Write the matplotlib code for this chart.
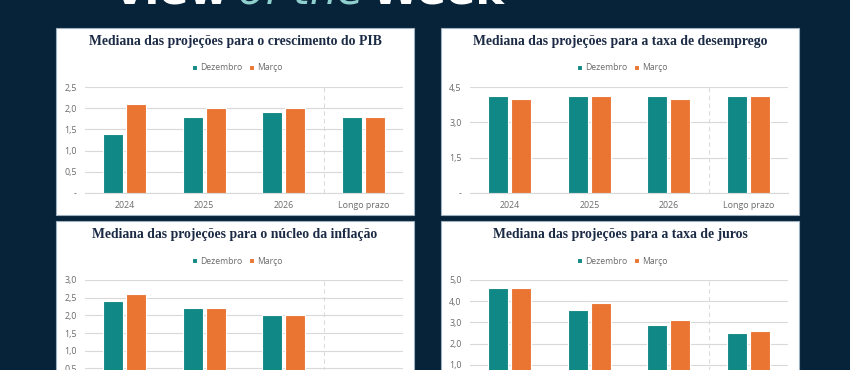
import matplotlib

matplotlib.use("Agg")
import matplotlib.patches as patches
import matplotlib.pyplot as plt
import numpy as np
from matplotlib.ticker import FuncFormatter, MultipleLocator

W, H = 850, 370

categories = ["2024", "2025", "2026", "Longo prazo"]
series_names = ["Dezembro", "Março"]

pib_dez = [1.4, 1.8, 1.9, 1.8]
pib_mar = [2.1, 2.0, 2.0, 1.8]
desemprego_dez = [4.1, 4.1, 4.1, 4.1]
desemprego_mar = [4.0, 4.1, 4.0, 4.1]
nucleo_dez = [2.4, 2.2, 2.0, np.nan]
nucleo_mar = [2.6, 2.2, 2.0, np.nan]
juros_dez = [4.6, 3.6, 2.9, 2.5]
juros_mar = [4.6, 3.9, 3.1, 2.6]

titles = [
    "Mediana das projeções para o crescimento do PIB",
    "Mediana das projeções para a taxa de desemprego",
    "Mediana das projeções para o núcleo da inflação",
    "Mediana das projeções para a taxa de juros",
]

NAVY = "#06233a"
TEAL = "#108886"
ORANGE = "#ea7533"
TITLE_COLOR = "#1c2b45"
TICK_COLOR = "#6b6b6b"
GRID_COLOR = "#d9d9d9"


def fig_box(x, y, w, h):
    # pixel box (top-left origin) -> figure fraction [left, bottom, width, height]
    return [x / W, 1 - (y + h) / H, w / W, h / H]


def tick_fmt(value, _pos):
    if abs(value) < 1e-9:
        return "-"
    return f"{value:.1f}".replace(".", ",")


def draw_panel(fig, x0, y0, title, dez, mar, ymax, step, show_xlabels=True):
    bx = fig_box(x0, y0, 358, 187)
    fig.add_artist(
        patches.Rectangle(
            (bx[0], bx[1]), bx[2], bx[3],
            transform=fig.transFigure, facecolor="white",
            edgecolor="#9fb0bf", linewidth=0.8, zorder=0,
        )
    )
    fig.text(
        (x0 + 179) / W, 1 - (y0 + 14) / H, title,
        ha="center", va="center", fontsize=9.9, fontweight="bold",
        family="Liberation Serif", color=TITLE_COLOR,
    )

    ax = fig.add_axes(fig_box(x0 + 29, y0 + 59, 318, 106))
    ax.set_facecolor("none")
    x = np.arange(len(categories))
    offset, width = 0.145, 0.25
    ax.bar(x - offset, dez, width, color=TEAL, edgecolor="white", linewidth=0.8,
           label=series_names[0], zorder=3)
    ax.bar(x + offset, mar, width, color=ORANGE, edgecolor="white", linewidth=0.8,
           label=series_names[1], zorder=3)
    ax.set_xlim(-0.5, len(categories) - 0.5)
    ax.set_ylim(0, ymax)
    ax.yaxis.set_major_locator(MultipleLocator(step))
    ax.yaxis.set_major_formatter(FuncFormatter(tick_fmt))
    ax.grid(axis="y", color=GRID_COLOR, linewidth=0.8, zorder=0)
    ax.axvline(2.5, color="#dcdcdc", linestyle=(0, (4, 3)), linewidth=0.8, zorder=1)
    for side in ["top", "right", "left"]:
        ax.spines[side].set_visible(False)
    ax.spines["bottom"].set_color(GRID_COLOR)
    ax.spines["bottom"].set_linewidth(0.8)
    ax.set_xticks(x)
    # lower panels run past the bottom edge, so their category labels are not shown
    ax.set_xticklabels(categories if show_xlabels else [])
    ax.tick_params(axis="both", length=0, labelsize=6.4, colors=TICK_COLOR, pad=6)
    for lbl in ax.get_xticklabels() + ax.get_yticklabels():
        lbl.set_family("Open Sans")
    if not show_xlabels:
        for lbl, val in zip(ax.get_yticklabels(), ax.get_yticks()):
            if val < step * 0.99:
                lbl.set_visible(False)

    ax.legend(
        loc="center", bbox_to_anchor=((x0 + 181) / W, 1 - (y0 + 40) / H),
        bbox_transform=fig.transFigure, ncol=2, frameon=False,
        labelcolor=TICK_COLOR, handlelength=0.65, handleheight=0.65,
        handletextpad=0.3, columnspacing=0.8,
        prop={"family": "Open Sans", "size": 6.2},
    )
    return ax


fig = plt.figure(figsize=(W / 100, H / 100), dpi=100, facecolor=NAVY)

# banner heading, mostly cropped off the top edge
base_y = 1 - 4 / H
fig.text(113 / W, base_y, "View", ha="left", va="baseline", fontsize=31,
         fontweight="bold", color="white", family="DejaVu Sans")
fig.text(238 / W, base_y, "of the", ha="left", va="baseline", fontsize=31,
         fontstyle="italic", color="#8fd0cf", family="DejaVu Sans")
fig.text(372 / W, base_y, "Week", ha="left", va="baseline", fontsize=31,
         fontweight="bold", color="white", family="DejaVu Sans")

draw_panel(fig, 56, 28, titles[0], pib_dez, pib_mar, 2.5, 0.5)
draw_panel(fig, 441, 28, titles[1], desemprego_dez, desemprego_mar, 4.5, 1.5)
draw_panel(fig, 56, 221, titles[2], nucleo_dez, nucleo_mar, 3.0, 0.5, show_xlabels=False)
draw_panel(fig, 441, 221, titles[3], juros_dez, juros_mar, 5.0, 1.0, show_xlabels=False)

fig.savefig("out.png", dpi=100, facecolor=NAVY)
